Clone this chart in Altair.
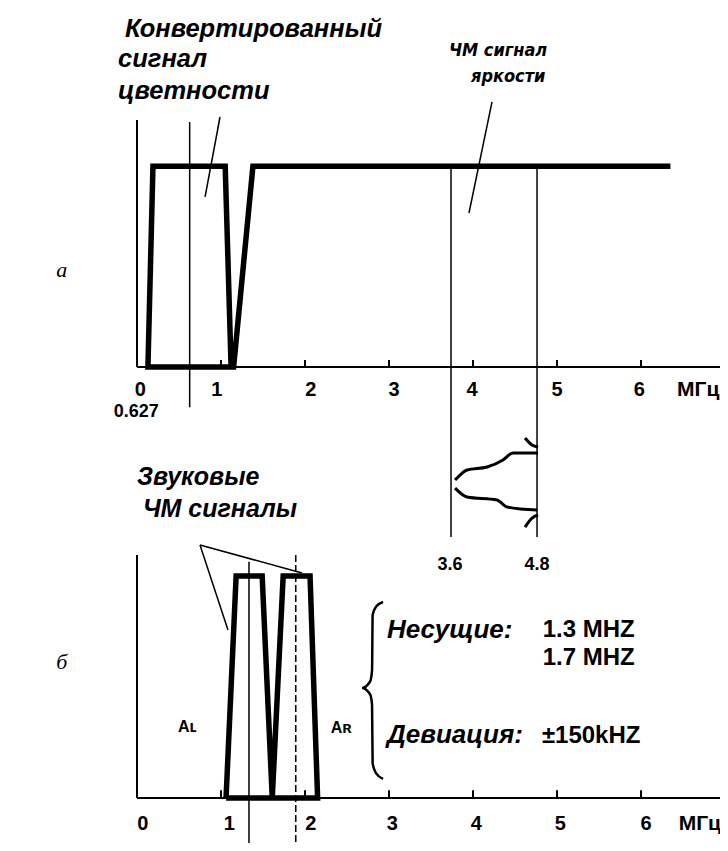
import altair as alt
import pandas as pd

XMAX = 6.94

# ---------------- top panel (а) ----------------
top_shape_x = [1.12, 1.05, 0.19, 0.13, 1.12, 1.15, 1.38, 6.35]
top_shape_y = [0, 1, 1, 0, 0, 0, 1, 1]

top_thin = {
    "m0627": ([0.627, 0.627], [1.22, -0.20]),
    "m36": ([3.738, 3.738], [1.0, -0.847]),
    "m48": ([4.762, 4.762], [1.0, -0.847]),
    "ptr_col": ([0.988, 0.81], [1.245, 0.847]),
    "ptr_lum": ([4.226, 3.952], [1.32, 0.767]),
}
top_axes = {
    "yax": ([0, 0], [0, 1.23]),
    "xax": ([0, XMAX], [0, 0]),
}
top_curve = {
    "upper": ([4.774, 4.476, 4.357, 4.167, 3.929, 3.845, 3.786],
              [-0.428, -0.428, -0.463, -0.498, -0.513, -0.538, -0.563]),
    "lower": ([3.786, 3.929, 4.286, 4.405, 4.762],
              [-0.603, -0.647, -0.662, -0.697, -0.712]),
    "hook1": ([4.619, 4.702, 4.774], [-0.353, -0.388, -0.398]),
    "hook2": ([4.619, 4.702, 4.774], [-0.797, -0.752, -0.737]),
}
top_ticks = [1, 2, 3, 4, 5, 6]
top_tick_labels = ["0", "1", "2", "3", "4", "5", "6"]
top_tick_label_x = [0.04, 0.95, 2.07, 3.06, 3.99, 5.0, 5.98]
top_unit_x = 6.68
top_sub_labels = ["0.627", "3.6", "4.8"]
top_sub_x = [-0.01, 3.726, 4.762]
top_sub_y = [-0.225, -0.986, -0.986]

top_title_lines = ["Конвертированный", "сигнал", "цветности"]
top_title_x = [-0.143, -0.226, -0.226]
top_title_y = [1.643, 1.494, 1.335]
top_lum_lines = ["ЧМ сигнал", "яркости"]
top_lum_x = [3.714, 3.976]
top_lum_y = [1.55, 1.42]

# ---------------- bottom panel (б) ----------------
bot_shape_x = [1.06, 1.18, 1.49, 1.61, 1.74, 2.06, 2.15, 1.06]
bot_shape_y = [0, 1, 1, 0, 1, 1, 0, 0]

bot_thin = {
    "c13": ([1.333, 1.333], [1.064, -0.21]),
    "ptr1": ([0.75, 1.083], [1.14, 0.757]),
    "ptr2": ([0.75, 1.964], [1.14, 1.014]),
}
bot_dashed = {
    "c17": ([1.89, 1.89], [1.095, -0.21]),
}
bot_axes = {
    "yax": ([0, 0], [0, 1.095]),
    "xax": ([0, XMAX], [0, 0]),
}
brace_x = [2.929, 2.845, 2.805, 2.798, 2.775, 2.679, 2.775, 2.798, 2.805, 2.845, 2.929]
brace_y = [0.883, 0.862, 0.825, 0.575, 0.525, 0.496, 0.467, 0.42, 0.155, 0.112, 0.086]
bot_ticks = [1, 2, 3, 4, 5, 6]
bot_tick_labels = ["0", "1", "2", "3", "4", "5", "6"]
bot_tick_label_x = [0.07, 1.1, 2.07, 3.04, 4.04, 5.04, 6.06]
bot_unit_x = 6.7

bot_title_lines = ["Звуковые", "ЧМ сигналы"]
bot_title_x = [0.0, 0.07]
bot_title_y = [1.41, 1.266]
bot_italic_labels = ["Несущие:", "Девиация:"]
bot_italic_x = [2.976, 2.976]
bot_italic_y = [0.72, 0.248]
bot_value_labels = ["1.3 MHZ", "1.7 MHZ", "±150kHZ"]
bot_value_x = [4.83, 4.83, 4.82]
bot_value_y = [0.726, 0.60, 0.248]
bot_chan_labels = ["Aʟ", "Aʀ"]
bot_chan_x = [0.6, 2.43]
bot_chan_y = [0.32, 0.315]

panel_letters = ["а", "б"]
panel_letter_x = -0.96
panel_letter_y = [0.483, 0.613]

# vertical extents of each panel's scale over the whole drawing
TOP_DOMAIN = [-2.146, 1.23]
BOT_DOMAIN = [0, 3.055]

# ---------------- helpers ----------------
def seg_df(segs):
    rows = []
    for name, (xs, ys) in segs.items():
        for i, (x, y) in enumerate(zip(xs, ys)):
            rows.append({"seg": name, "i": i, "x": x, "y": y})
    return pd.DataFrame(rows)


def path_df(xs, ys):
    return pd.DataFrame({"seg": "p", "i": list(range(len(xs))), "x": xs, "y": ys})


def enc(dom):
    return dict(
        x=alt.X("x:Q", scale=alt.Scale(domain=[0, XMAX], nice=False, zero=False), axis=None),
        y=alt.Y("y:Q", scale=alt.Scale(domain=dom, nice=False, zero=False), axis=None),
    )


def lines(df, dom, width, dash=None, interp="linear"):
    kw = dict(color="black", strokeWidth=width, strokeJoin="miter", strokeCap="butt",
              interpolate=interp)
    if dash:
        kw["strokeDash"] = dash
    return alt.Chart(df).mark_line(**kw).encode(
        detail="seg:N", order="i:Q", **enc(dom))


def texts(labels, xs, ys, dom, size, italic=False, bold=True, align="left",
          baseline="alphabetic", font="Liberation Sans"):
    df = pd.DataFrame({"t": labels, "x": xs, "y": ys})
    kw = dict(color="black", fontSize=size, font=font, align=align, baseline=baseline,
              fontWeight="bold" if bold else "normal")
    if italic:
        kw["fontStyle"] = "italic"
    return alt.Chart(df).mark_text(**kw).encode(text="t:N", **enc(dom))


def ticks(xs, dom, h):
    df = pd.DataFrame({"x": xs, "y": [0] * len(xs), "y2": [h] * len(xs)})
    return alt.Chart(df).mark_rule(color="black", strokeWidth=2).encode(
        y2="y2:Q", **enc(dom))


# ---------------- build top ----------------
D = TOP_DOMAIN
top = alt.layer(
    lines(seg_df(top_axes), D, 2),
    ticks(top_ticks, D, 0.035),
    lines(seg_df(top_thin), D, 1.5),
    lines(seg_df(top_curve), D, 3, interp="monotone"),
    lines(path_df(top_shape_x, top_shape_y), D, 5.5),
    texts(top_tick_labels, top_tick_label_x, [-0.115] * 7, D, 20, align="center", baseline="middle"),
    texts(["МГц"], [top_unit_x], [-0.115], D, 21, align="center", baseline="middle"),
    texts(top_sub_labels, top_sub_x, top_sub_y, D, 18, align="center", baseline="middle"),
    texts(top_title_lines, top_title_x, top_title_y, D, 25.5, italic=True),
    texts(top_lum_lines, top_lum_x, top_lum_y, D, 18, italic=True,
          font="Liberation Sans Narrow, DejaVu Sans Condensed, Liberation Sans"),
    texts([panel_letters[0]], [panel_letter_x], [panel_letter_y[0]], D, 22, italic=True,
          bold=False, baseline="middle", font="Liberation Serif"),
)

# ---------------- build bottom ----------------
D = BOT_DOMAIN
bottom = alt.layer(
    lines(seg_df(bot_axes), D, 2),
    ticks(bot_ticks, D, 0.035),
    lines(seg_df(bot_thin), D, 1.5),
    lines(seg_df(bot_dashed), D, 1.5, dash=[7, 3]),
    lines(path_df(brace_x, brace_y), D, 2.5, interp="monotone"),
    lines(path_df(bot_shape_x, bot_shape_y), D, 5.5),
    texts(bot_tick_labels, bot_tick_label_x, [-0.117] * 7, D, 20, align="center", baseline="middle"),
    texts(["МГц"], [bot_unit_x], [-0.117], D, 21, align="center", baseline="middle"),
    texts(bot_title_lines, bot_title_x, bot_title_y, D, 25, italic=True),
    texts(bot_italic_labels, bot_italic_x, bot_italic_y, D, 26, italic=True),
    texts(bot_value_labels, bot_value_x, bot_value_y, D, 24),
    texts(bot_chan_labels, bot_chan_x, bot_chan_y, D, 16, baseline="middle", align="center"),
    texts([panel_letters[1]], [panel_letter_x], [panel_letter_y[1]], D, 22, italic=True,
          bold=False, baseline="middle", font="Liberation Serif"),
)

chart = alt.layer(top, bottom).resolve_scale(y="independent").properties(
    width=583,
    height=678,
    autosize=alt.AutoSizeParams(type="none"),
    padding={"left": 129, "top": 112, "right": 0, "bottom": 45},
    background="white",
).configure_view(stroke=None)

chart.save("out.html", embed_options={"renderer": "svg", "actions": False})
